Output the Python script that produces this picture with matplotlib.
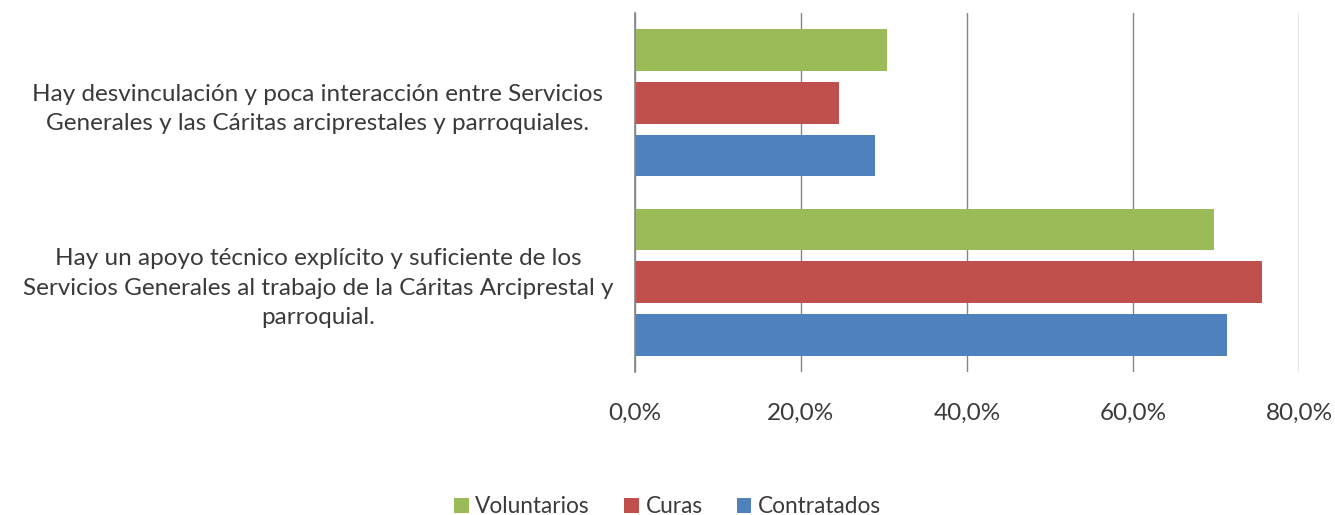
import matplotlib.pyplot as plt
import numpy as np

plt.rcParams['font.family'] = ['Lato', 'DejaVu Sans']

categories = [
    "Hay un apoyo técnico explícito y suficiente de los\nServicios Generales al trabajo de la Cáritas Arciprestal y\nparroquial.",
    "Hay desvinculación y poca interacción entre Servicios\nGenerales y las Cáritas arciprestales y parroquiales.",
]
contratados = [0.713, 0.289]
curas = [0.755, 0.246]
voluntarios = [0.697, 0.304]
xticks = [0.0, 0.2, 0.4, 0.6, 0.8]
xtick_labels = ["0,0%", "20,0%", "40,0%", "60,0%", "80,0%"]

fig = plt.figure(figsize=(13.35, 5.15), dpi=100)
ax = fig.add_axes([0.4753, 0.2777, 0.4981, 0.6971])

y = np.arange(len(categories))
step = 0.294
h = 0.233
ax.barh(y - step, contratados, height=h, color="#4F81BD", label="Contratados")
ax.barh(y, curas, height=h, color="#C0504D", label="Curas")
ax.barh(y + step, voluntarios, height=h, color="#9BBB59", label="Voluntarios")

ax.set_xlim(0, 0.8)
ax.set_ylim(-0.5, 1.5)
ax.set_xticks(xticks)
ax.set_xticklabels(xtick_labels)
ax.set_yticks(y)
ax.set_yticklabels(categories, ha="center", multialignment="center")

ax.tick_params(axis="x", length=0, pad=22, labelsize=17.5, labelcolor="#3a3a3a")
ax.tick_params(axis="y", length=0, pad=228, labelsize=17.5, labelcolor="#3a3a3a")
for lbl in ax.get_yticklabels():
    lbl.set_linespacing(1.5)

ax.grid(axis="x", color="#868686", linewidth=1)
ax.set_axisbelow(True)
for s in ["top", "right", "bottom"]:
    ax.spines[s].set_visible(False)
ax.spines["left"].set_color("#868686")
ax.spines["left"].set_linewidth(1.2)

handles, labels = ax.get_legend_handles_labels()
fig.legend(handles[::-1], labels[::-1], loc="center", bbox_to_anchor=(0.5, 0.016),
           ncol=3, frameon=False, fontsize=16.3, handlelength=0.65, handleheight=0.65,
           handletextpad=0.3, columnspacing=1.5, labelcolor="#3a3a3a")

fig.savefig("out.png", dpi=100)
